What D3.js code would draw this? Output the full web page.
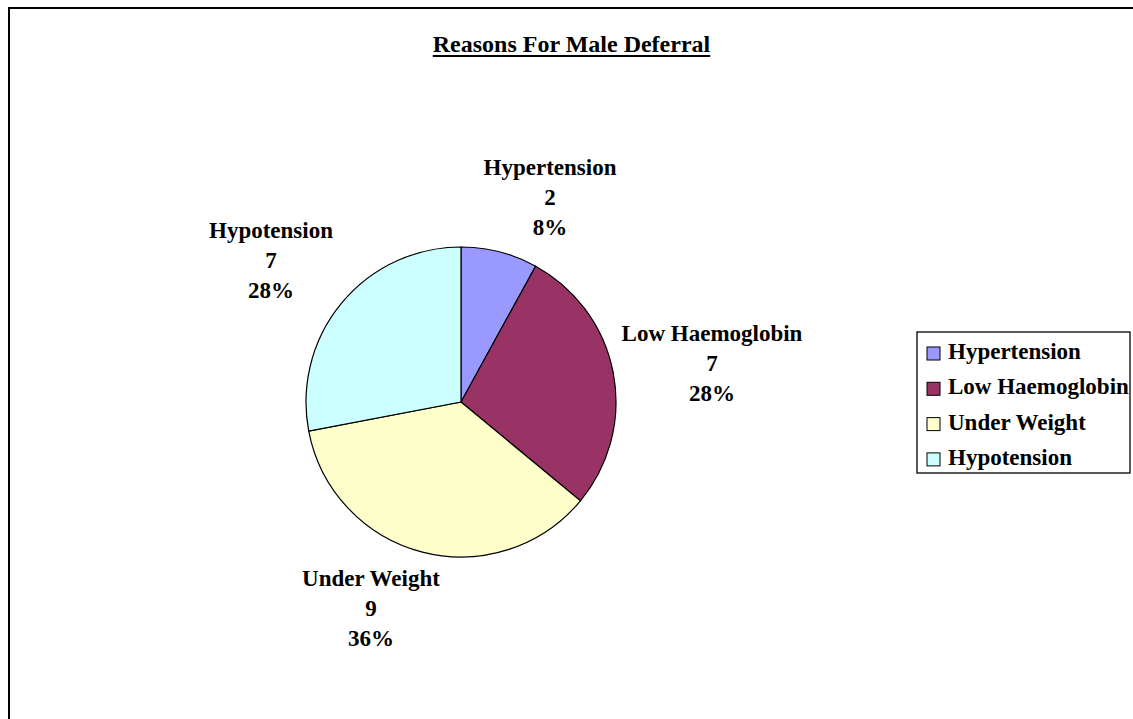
<!DOCTYPE html>
<html>
<head>
<meta charset="utf-8">
<script src="https://cdn.jsdelivr.net/npm/d3@7"></script>
<style>
  body { margin: 0; background: #fff; }
  text { font-family: "Liberation Serif", "Times New Roman", serif; font-weight: bold; fill: #000; }
</style>
</head>
<body>
<script>
// chart data
var categories = ["Hypertension", "Low Haemoglobin", "Under Weight", "Hypotension"];
var counts = [2, 7, 9, 7];
var percents = ["8%", "28%", "36%", "28%"];
var sliceColors = ["#9999FF", "#993366", "#FFFFCC", "#CCFFFF"];

// label placement, offset from pie centre (x, first baseline)
var labelOffsets = [[89, -227], [251, -61], [-90, 184], [-190, -164]];

var width = 1133, height = 719;
var cx = 461, cy = 402, radius = 155;

var svg = d3.select("body")
  .append("svg")
  .attr("width", width)
  .attr("height", height);

// outer frame (runs off the right and bottom of the page)
svg.append("rect")
  .attr("x", 9).attr("y", 8)
  .attr("width", 1200).attr("height", 800)
  .attr("fill", "none")
  .attr("stroke", "#000")
  .attr("stroke-width", 2);

// title with underline
var title = svg.append("text")
  .attr("x", 571.5).attr("y", 52)
  .attr("text-anchor", "middle")
  .style("font-size", "24px")
  .text("Reasons For Male Deferral");
var tw = title.node().getComputedTextLength();
svg.append("line")
  .attr("x1", 571.5 - tw / 2).attr("x2", 571.5 + tw / 2)
  .attr("y1", 56).attr("y2", 56)
  .attr("stroke", "#000")
  .attr("stroke-width", 2);

var data = categories.map(function(c, i) {
  return {name: c, value: counts[i], pct: percents[i], color: sliceColors[i]};
});

var pie = d3.pie().sort(null).value(function(d) { return d.value; });
var arc = d3.arc().innerRadius(0).outerRadius(radius);

var g = svg.append("g").attr("transform", "translate(" + cx + "," + cy + ")");

g.selectAll("path")
  .data(pie(data))
  .enter()
  .append("path")
  .attr("d", arc)
  .attr("fill", function(d) { return d.data.color; })
  .attr("stroke", "#000")
  .attr("stroke-width", 1.2);

// data labels
var labels = g.selectAll("text.lbl")
  .data(data)
  .enter()
  .append("text")
  .attr("class", "lbl")
  .attr("text-anchor", "middle")
  .style("font-size", "23px");

labels.each(function(d, i) {
  var t = d3.select(this);
  var o = labelOffsets[i];
  [d.name, d.value, d.pct].forEach(function(line, k) {
    t.append("tspan")
      .attr("x", o[0])
      .attr("y", o[1] + k * 30)
      .text(line);
  });
});

// legend
var legend = svg.append("g").attr("transform", "translate(917,332)");
legend.append("rect")
  .attr("width", 213).attr("height", 141)
  .attr("fill", "#fff")
  .attr("stroke", "#000")
  .attr("stroke-width", 1.3);

var ly = d3.scaleLinear().domain([0, 1]).range([27, 62.3]);

var items = legend.selectAll("g.item")
  .data(data)
  .enter()
  .append("g")
  .attr("class", "item")
  .attr("transform", function(d, i) { return "translate(0," + ly(i) + ")"; });

items.append("rect")
  .attr("x", 10).attr("y", -12)
  .attr("width", 13).attr("height", 13)
  .attr("fill", function(d) { return d.color; })
  .attr("stroke", "#000")
  .attr("stroke-width", 1);

items.append("text")
  .attr("x", 31)
  .attr("y", 0)
  .style("font-size", "23px")
  .text(function(d) { return d.name; });
</script>
</body>
</html>
